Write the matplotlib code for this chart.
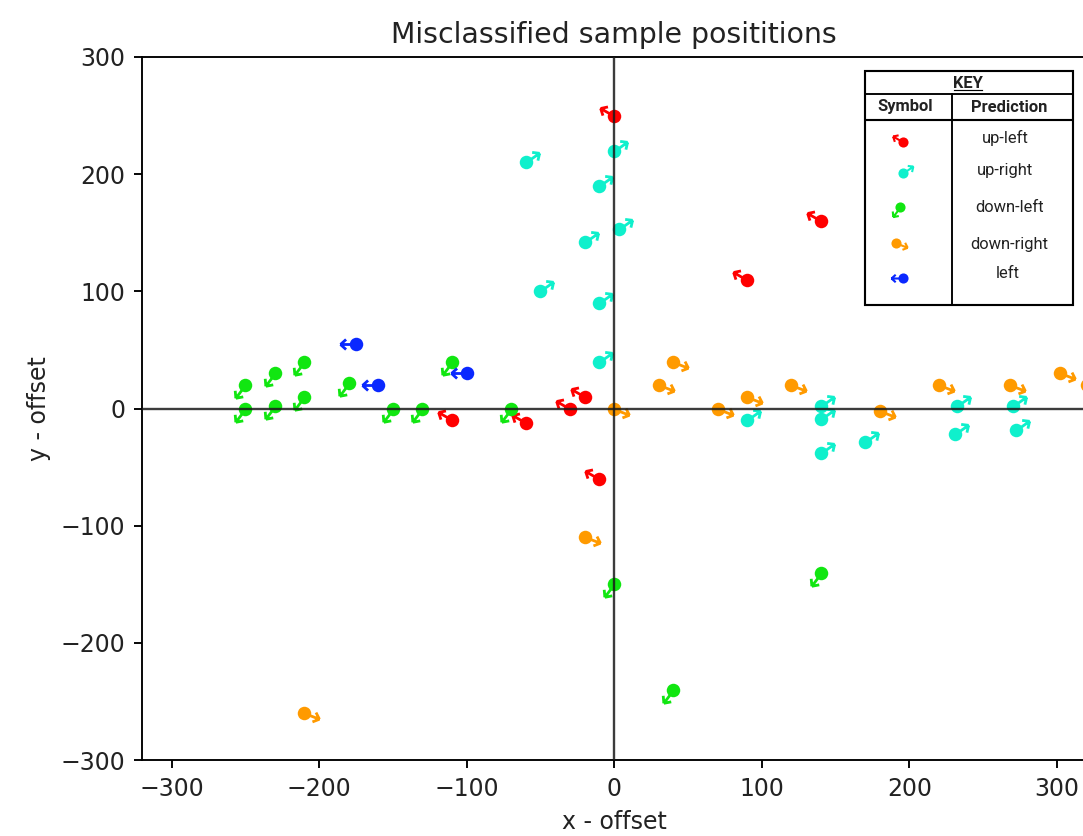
import numpy as np
import matplotlib
matplotlib.use("Agg")
import matplotlib.pyplot as plt
from matplotlib.path import Path
from matplotlib.patches import Rectangle

DPI = 170
PX = 72.0 / DPI  # points per pixel

# misclassified samples, grouped by predicted direction
up_left_x = [0, 140, 90, -20, -30, -110, -60, -10]
up_left_y = [250, 160, 110, 10, 0, -10, -12, -60]

up_right_x = [-60, 0, -10, 3, -20, -50, -10, -10, 90, 140, 140, 140, 170, 232, 231, 270, 272]
up_right_y = [210, 220, 190, 153, 142, 100, 90, 40, -10, 2, -9, -38, -29, 2, -22, 2, -18]

down_left_x = [-250, -250, -230, -230, -210, -210, -180, -150, -110, -130, -70, 0, 40, 140]
down_left_y = [20, 0, 30, 2, 40, 10, 22, 0, 40, 0, 0, -150, -240, -140]

down_right_x = [0, 40, 30, 70, 90, 120, 180, 220, 268, 302, 320, -20, -210]
down_right_y = [0, 40, 20, 0, 10, 20, -2, 20, 20, 30, 20, -110, -260]

left_x = [-175, -160, -100]
left_y = [55, 20, 30]

classes = [
    ("up-left", up_left_x, up_left_y, "#ff0000", 150),
    ("up-right", up_right_x, up_right_y, "#0ff0cc", 35),
    ("down-left", down_left_x, down_left_y, "#11e611", 233),
    ("down-right", down_right_x, down_right_y, "#ff9a00", -21),
    ("left", left_x, left_y, "#0a28ff", 180),
]


def arrow_marker(angle, r0=4.0, r1=16.0, head=7.5, box=20.0):
    # open arrow offset from the centre, in pixel units; the two moveto
    # corners fix the marker scale so every direction has the same size
    a = np.radians(angle)
    tip = r1 * np.array([np.cos(a), np.sin(a)])
    start = r0 * np.array([np.cos(a), np.sin(a)])
    verts = [(-box, -box), (box, box), start, tip]
    codes = [Path.MOVETO, Path.MOVETO, Path.MOVETO, Path.LINETO]
    for s in (1, -1):
        b = a + np.pi + s * np.radians(42)
        verts += [tip, tip + head * np.array([np.cos(b), np.sin(b)])]
        codes += [Path.MOVETO, Path.LINETO]
    return Path(verts, codes)


def draw_samples(ax, x, y, color, angle, scale=1.0, clip=True):
    ax.plot(x, y, ls="none", marker="o", ms=13.5 * PX * scale, color=color,
            mec="none", zorder=2, clip_on=clip)
    ax.plot(x, y, ls="none", marker=arrow_marker(angle), ms=40 * PX * scale,
            mfc="none", mec=color, mew=2.8 * PX * scale, zorder=2, clip_on=clip)


fig = plt.figure(figsize=(1083 / DPI, 836 / DPI), dpi=DPI)
ax = fig.add_axes([142 / 1083, 76 / 836, 944.5 / 1083, 703 / 836])

for name, xs, ys, col, ang in classes:
    draw_samples(ax, xs, ys, col, ang)

ax.axhline(0, color="#1a1a1a", lw=1.0, alpha=0.85, zorder=3)
ax.axvline(0, color="#1a1a1a", lw=1.0, alpha=0.85, zorder=3)

ax.set_xlim(-320, 320)
ax.set_ylim(-300, 300)
ax.set_xticks(range(-300, 301, 100))
ax.set_yticks(range(-300, 301, 100))
ax.tick_params(labelcolor="#222222")
ax.set_title("Misclassified sample posititions", color="#222222")
ax.set_xlabel("x - offset", color="#222222")
ax.set_ylabel("y - offset", color="#222222")

# key table, drawn in pixel units
key = fig.add_axes([865 / 1083, (836 - 305) / 836, 208 / 1083, 234 / 836])
key.set_xlim(0, 208)
key.set_ylim(234, 0)
key.axis("off")
key.add_patch(Rectangle((0, 0), 208, 234, fill=False, lw=0.9, ec="black",
                        clip_on=False))
key.plot([0, 208], [23, 23], color="black", lw=0.8)
key.plot([0, 208], [49, 49], color="black", lw=0.9)
key.plot([87, 87], [23, 234], color="black", lw=0.8)

tfont = dict(family=["Roboto", "DejaVu Sans"], fontsize=7, color="#222222")
key.text(103, 12, "KEY", ha="center", va="center", weight="bold", **tfont)
key.plot([89, 117], [18.5, 18.5], color="black", lw=0.5)
key.text(40, 36, "Symbol", ha="center", va="center", weight="bold", **tfont)
key.text(144, 36, "Prediction", ha="center", va="center", weight="bold", **tfont)

sym_pos = [(38, 71), (38, 102), (35, 136), (31, 172), (38, 207)]
text_pos = [(140, 67), (140, 100), (145, 137), (144, 173), (143, 203)]
for (name, xs, ys, col, ang), (sx, sy), (tx, ty) in zip(classes, sym_pos, text_pos):
    draw_samples(key, [sx], [sy], col, ang, scale=0.75, clip=False)
    key.text(tx, ty, name, ha="center", va="center", **tfont)

fig.savefig("out.png", dpi=DPI)
